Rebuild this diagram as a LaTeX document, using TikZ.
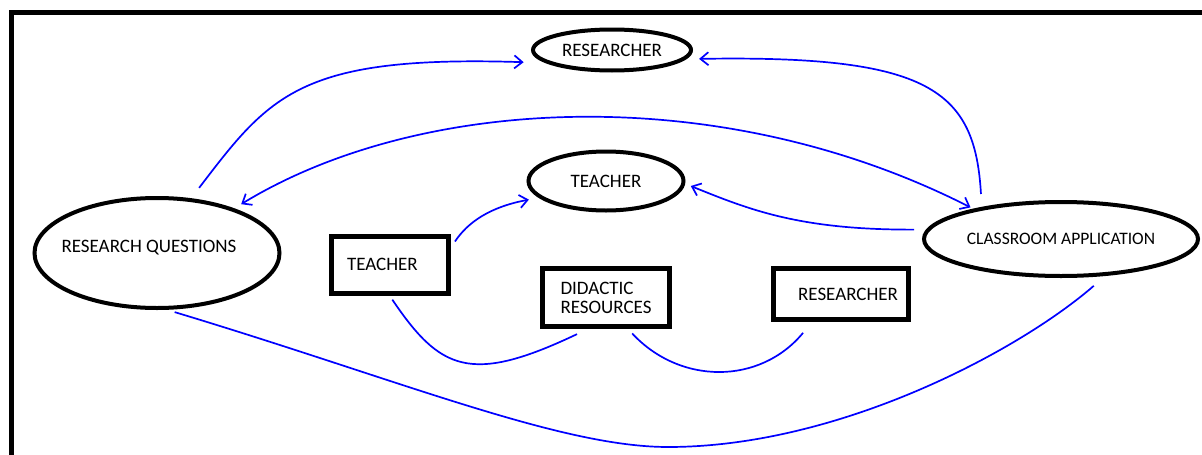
\documentclass[tikz,border=0pt]{standalone}
\usepackage{fontspec}
\setmainfont{Carlito}
\usetikzlibrary{shapes.geometric,arrows.meta}

\begin{document}
\begin{tikzpicture}[x=1pt,y=-1pt,
  oval/.style={draw,ellipse,line width=4pt,inner sep=0pt,font=\fontsize{19}{20}\selectfont},
  box/.style={draw,rectangle,line width=5pt,inner sep=0pt,align=left,font=\fontsize{19}{19}\selectfont},
  link/.style={draw=blue,line width=1.7pt},
  >={Straight Barb[length=8pt,width=13pt]}]
\useasboundingbox (0,0) rectangle (1202,455);
\draw[line width=5pt] (1202,12.5) -- (11.5,12.5) -- (11.5,455); % frame
\node[oval,minimum width=158pt,minimum height=41pt] (res) at (612,50) {RESEARCHER}; % top
\node[oval,minimum width=155pt,minimum height=59pt] (teach) at (606,181) {TEACHER}; % middle
\node[oval,minimum width=245pt,minimum height=110pt,inner xsep=-10pt,text depth=14pt] (rq) at (157,253) {RESEARCH QUESTIONS\hspace*{16pt}}; % left
\node[oval,minimum width=274pt,minimum height=74pt,font=\fontsize{17.5}{19}\selectfont] (ca) at (1061,239) {CLASSROOM APPLICATION}; % right
\node[box,minimum width=117pt,minimum height=57pt,text width=85pt] (tbox) at (389.5,264.5) {TEACHER};
\node[box,minimum width=127pt,minimum height=58pt] (dr) at (606,297.5) {DIDACTIC\\RESOURCES};
\node[box,minimum width=135pt,minimum height=51pt,text width=114pt,align=right] (rbox) at (841,294) {RESEARCHER};
\draw[link,->,shorten <=13pt,shorten >=22pt] (rq.58) .. controls (270,95) and (300,55) .. (res.191); % questions -> researcher
\draw[link,->,shorten <=13pt,shorten >=13pt] (ca.158) .. controls (975,90) and (930,55) .. (res.353); % application -> researcher
\draw[link,<->,shorten <=8pt,shorten >=3pt] (rq.30) .. controls (420,95) and (720,80) .. (ca.161); % questions <-> application
\draw[link,->,shorten <=12pt,shorten >=6pt] (ca.176) .. controls (800,230) and (750,210) .. (teach.358); % application -> teacher
\draw[link,->,shorten <=8pt,shorten >=10pt] (tbox.15) .. controls (468,222) and (490,207) .. (teach.194); % box -> teacher
\draw[link,shorten <=5pt,shorten >=12pt] (tbox.south) .. controls (440,370) and (470,385) .. (dr.240);
\draw[link,shorten <=6pt,shorten >=14pt] (dr.305) .. controls (680,385) and (760,385) .. (rbox.224);
\draw[link,shorten <=8pt,shorten >=15pt] (rq.280) .. controls (400,380) and (560,447) .. (668,447)
  .. controls (840,447) and (1020,350) .. (ca.320); % bottom arc
\end{tikzpicture}
\end{document}
